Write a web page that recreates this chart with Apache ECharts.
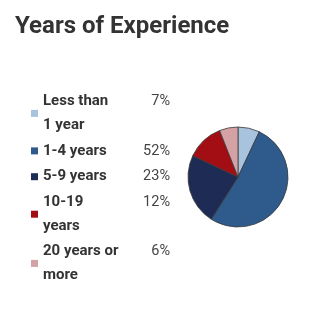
<!DOCTYPE html>
<html><head><meta charset="utf-8">
<script src="https://cdn.jsdelivr.net/npm/echarts@6/dist/echarts.min.js"></script>
<style>html,body{margin:0;padding:0;background:#fff}#c{width:321px;height:320px}</style>
</head><body><div id="c"></div>
<script>
var categories = ['Less than 1 year', '1-4 years', '5-9 years', '10-19 years', '20 years or more'];
var legendLines = [['Less than', '1 year'], ['1-4 years'], ['5-9 years'], ['10-19', 'years'], ['20 years or', 'more']];
var values = [7, 52, 23, 12, 6];
var colors = ['#a7c3dd', '#2e5b8c', '#1d2b55', '#a30e15', '#d4a1a4'];

var chart = echarts.init(document.getElementById('c'), null, {renderer: 'canvas'});
chart.setOption({
  animation: false,
  title: {
    text: 'Years of Experience', left: 10, top: 10,
    textStyle: {fontFamily: 'Roboto', fontWeight: 'bold', fontSize: 24, color: '#333'}
  },
  legend: {
    orient: 'vertical', left: 26, top: 85, itemWidth: 7, itemHeight: 7, itemGap: 2.4,
    icon: 'rect',
    itemStyle: {borderWidth: 0},
    formatter: function (name) {
      var i = categories.indexOf(name);
      var lines = legendLines[i];
      var s = '{n|' + lines[0] + '}{p|' + values[i] + '%}';
      for (var k = 1; k < lines.length; k++) s += '\n{n|' + lines[k] + '}{p|}';
      return s;
    },
    textStyle: {
      fontFamily: 'Roboto', fontSize: 15, color: '#333', lineHeight: 23.4,
      rich: {
        n: {fontFamily: 'Roboto', fontWeight: 'bold', fontSize: 15, color: '#333', width: 90, lineHeight: 23.4, height: 23.4},
        p: {fontFamily: 'Roboto', fontSize: 14.5, color: '#444', width: 37, align: 'right', lineHeight: 23.4, height: 23.4}
      }
    },
    data: categories
  },
  series: [{
    type: 'pie', center: [238, 177], radius: [0, 50], startAngle: 90, clockwise: true,
    label: {show: false}, labelLine: {show: false}, silent: true,
    itemStyle: {borderColor: '#3a3a3a', borderWidth: 0.8},
    data: categories.map(function (c, i) { return {name: c, value: values[i], itemStyle: {color: colors[i]}}; })
  }]
});
</script></body></html>
